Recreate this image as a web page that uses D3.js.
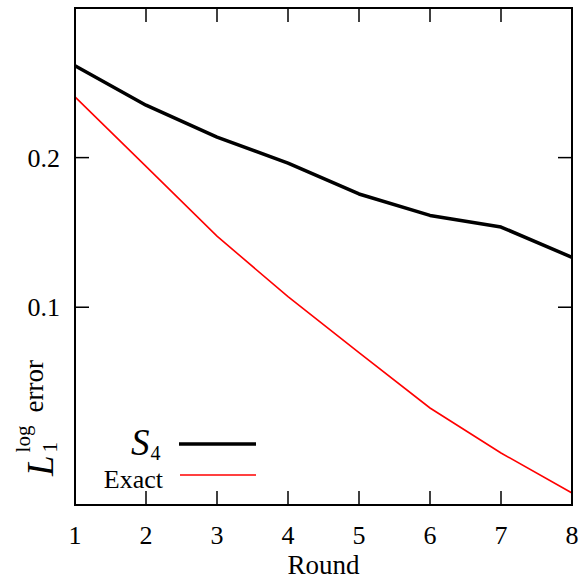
<!DOCTYPE html>
<html>
<head>
<meta charset="utf-8">
<script src="https://cdn.jsdelivr.net/npm/d3@7"></script>
<style>
  html, body { margin: 0; padding: 0; background: #fff; }
  svg { display: block; }
  text { font-family: "Liberation Serif", "Times New Roman", serif; fill: #000; }
</style>
</head>
<body>
<svg id="chart" width="582" height="581"></svg>
<script>
const rounds = [1, 2, 3, 4, 5, 6, 7, 8];
const s4Values = [0.306, 0.255, 0.220, 0.195, 0.169, 0.153, 0.145, 0.126];
const exactValues = [0.265, 0.192, 0.139, 0.105, 0.081, 0.0627, 0.0509, 0.0423];
const xTicks = [1, 2, 3, 4, 5, 6, 7, 8];
const yTicks = [0.1, 0.2];
const yTickLabels = ["0.1", "0.2"];

const svg = d3.select("#chart");
const L = 75, R = 572, T = 8, B = 505;
const x = d3.scaleLinear().domain([1, 8]).range([L, R]);
const y = d3.scaleLog().domain([0.04, 0.4]).range([B, T]);
const TICK = 14;

// ticks (inward, mirrored)
const tg = svg.append("g").attr("stroke", "#000").attr("stroke-width", 1.5);
xTicks.forEach(v => {
  tg.append("line").attr("x1", x(v)).attr("x2", x(v)).attr("y1", B).attr("y2", B - TICK);
  tg.append("line").attr("x1", x(v)).attr("x2", x(v)).attr("y1", T).attr("y2", T + TICK);
});
yTicks.forEach(v => {
  tg.append("line").attr("x1", L).attr("x2", L + TICK).attr("y1", y(v)).attr("y2", y(v));
  tg.append("line").attr("x1", R).attr("x2", R - TICK).attr("y1", y(v)).attr("y2", y(v));
});

// tick labels
svg.append("g").selectAll("text").data(xTicks).join("text")
  .attr("x", d => x(d)).attr("y", 544)
  .attr("text-anchor", "middle").attr("font-size", 26)
  .text(d => d);
svg.append("g").selectAll("text").data(yTicks).join("text")
  .attr("x", 60).attr("y", d => y(d) + 9)
  .attr("text-anchor", "end").attr("font-size", 26)
  .text((d, i) => yTickLabels[i]);

// axis title
svg.append("text").attr("x", (L + R) / 2).attr("y", 574)
  .attr("text-anchor", "middle").attr("font-size", 27).text("Round");

// y label (rotated), single text with tspans
const yl = svg.append("text").attr("transform", "rotate(-90)")
  .attr("x", -476).attr("y", 53);
yl.append("tspan").attr("font-size", 37).attr("font-style", "italic").text("L");
yl.append("tspan").attr("font-size", 21).attr("dx", 3).attr("dy", 4).text("1");
yl.append("tspan").attr("font-size", 21).attr("dx", -10.5).attr("dy", -27).text("log");
yl.append("tspan").attr("font-size", 27).attr("dx", 13).attr("dy", 13).text("error");

// series lines
const line = d3.line().x((d, i) => x(rounds[i])).y(d => y(d));
svg.append("path").datum(exactValues).attr("d", line)
  .attr("fill", "none").attr("stroke", "#ff0000").attr("stroke-width", 1.6);
svg.append("path").datum(s4Values).attr("d", line)
  .attr("fill", "none").attr("stroke", "#000").attr("stroke-width", 3.5)
  .attr("stroke-linejoin", "round");

// legend
const lg = svg.append("g");
const s4t = lg.append("text").attr("x", 131).attr("y", 455);
s4t.append("tspan").attr("font-size", 37).attr("font-style", "italic").text("S");
s4t.append("tspan").attr("font-size", 20).attr("dx", 1).attr("dy", 5).text("4");
lg.append("line").attr("x1", 179).attr("x2", 256).attr("y1", 444).attr("y2", 444)
  .attr("stroke", "#000").attr("stroke-width", 3.5);
lg.append("text").attr("x", 163).attr("y", 488).attr("font-size", 26)
  .attr("text-anchor", "end").text("Exact");
lg.append("line").attr("x1", 180).attr("x2", 256).attr("y1", 475).attr("y2", 475)
  .attr("stroke", "#ff0000").attr("stroke-width", 1.6);

// frame
svg.append("rect").attr("x", L).attr("y", T).attr("width", R - L).attr("height", B - T)
  .attr("fill", "none").attr("stroke", "#000").attr("stroke-width", 2);
</script>
</body>
</html>
